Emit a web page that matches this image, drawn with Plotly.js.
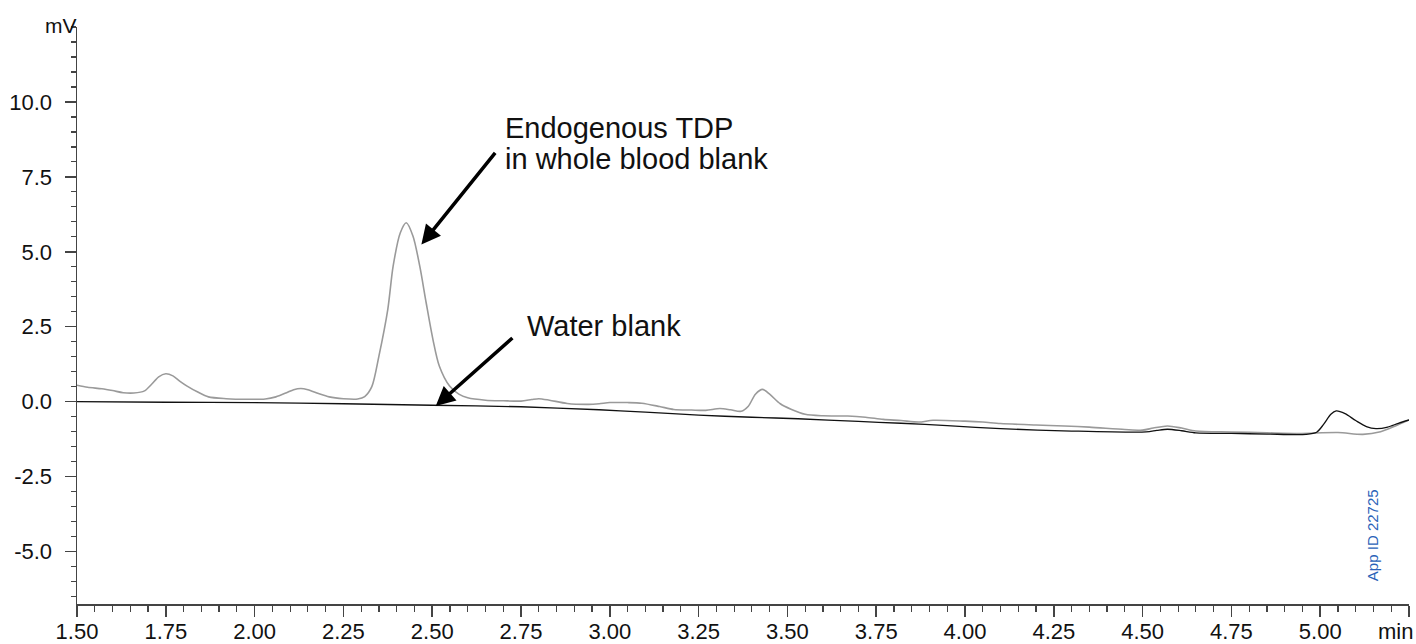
<!DOCTYPE html>
<html>
<head>
<meta charset="utf-8">
<script src="https://cdn.plot.ly/plotly-3.0.1.min.js"></script>
<style>
  html, body { margin: 0; padding: 0; background: #fff; }
  #chart { width: 1416px; height: 644px; }
</style>
</head>
<body>
<div id="chart"></div>
<script>
// Whole blood blank (grey trace): retention time (min) and signal (mV)
const bloodTime = [1.50, 1.53, 1.57, 1.60, 1.63, 1.66, 1.69, 1.71, 1.73, 1.75, 1.77, 1.79, 1.81, 1.84, 1.87, 1.92, 1.98, 2.03, 2.06, 2.09, 2.11, 2.13, 2.15, 2.18, 2.21, 2.25, 2.29, 2.31, 2.33, 2.35, 2.375, 2.39, 2.41, 2.427, 2.446, 2.465, 2.483, 2.502, 2.52, 2.549, 2.575, 2.60, 2.65, 2.70, 2.75, 2.78, 2.80, 2.83, 2.88, 2.94, 2.97, 3.00, 3.05, 3.09, 3.14, 3.18, 3.23, 3.27, 3.31, 3.34, 3.37, 3.39, 3.41, 3.43, 3.45, 3.48, 3.51, 3.55, 3.60, 3.67, 3.72, 3.77, 3.82, 3.87, 3.91, 4.00, 4.05, 4.10, 4.20, 4.28, 4.35, 4.45, 4.50, 4.53, 4.57, 4.61, 4.65, 4.75, 4.85, 4.94, 5.05, 5.12, 5.17, 5.21, 5.25];
const bloodSignal = [0.55, 0.48, 0.43, 0.37, 0.30, 0.29, 0.36, 0.58, 0.83, 0.93, 0.86, 0.68, 0.52, 0.32, 0.16, 0.10, 0.08, 0.09, 0.16, 0.30, 0.40, 0.44, 0.40, 0.27, 0.16, 0.10, 0.09, 0.17, 0.50, 1.52, 3.08, 4.52, 5.63, 5.97, 5.52, 4.52, 3.30, 2.08, 1.19, 0.52, 0.25, 0.13, 0.05, 0.03, 0.02, 0.07, 0.10, 0.05, -0.06, -0.09, -0.07, -0.03, -0.03, -0.05, -0.16, -0.26, -0.28, -0.29, -0.23, -0.27, -0.32, -0.15, 0.25, 0.41, 0.25, -0.07, -0.25, -0.42, -0.47, -0.48, -0.52, -0.59, -0.63, -0.68, -0.62, -0.65, -0.68, -0.73, -0.78, -0.81, -0.85, -0.93, -0.95, -0.88, -0.81, -0.88, -0.98, -1.01, -1.04, -1.06, -1.03, -1.09, -1.00, -0.82, -0.61];

// Water blank (black trace)
const waterTime = [1.50, 1.75, 2.00, 2.25, 2.50, 2.75, 2.97, 3.10, 3.25, 3.40, 3.53, 3.70, 3.82, 3.95, 4.10, 4.30, 4.51, 4.54, 4.57, 4.61, 4.65, 4.75, 4.85, 4.96, 4.99, 5.01, 5.03, 5.045, 5.07, 5.10, 5.13, 5.157, 5.19, 5.22, 5.25];
const waterSignal = [0.00, -0.02, -0.03, -0.07, -0.12, -0.17, -0.27, -0.35, -0.45, -0.52, -0.57, -0.66, -0.72, -0.80, -0.90, -0.98, -1.01, -0.96, -0.92, -0.97, -1.04, -1.06, -1.08, -1.09, -1.02, -0.75, -0.42, -0.31, -0.40, -0.63, -0.83, -0.90, -0.85, -0.72, -0.61];

// Axis ticks
const xTickValues = [1.50, 1.75, 2.00, 2.25, 2.50, 2.75, 3.00, 3.25, 3.50, 3.75, 4.00, 4.25, 4.50, 4.75, 5.00, 5.25];
const xTickLabels = ['1.50', '1.75', '2.00', '2.25', '2.50', '2.75', '3.00', '3.25', '3.50', '3.75', '4.00', '4.25', '4.50', '4.75', '5.00', ''];
const yTickValues = [-5.0, -2.5, 0.0, 2.5, 5.0, 7.5, 10.0];
const yTickLabels = ['-5.0', '-2.5', '0.0', '2.5', '5.0', '7.5', '10.0'];

// Annotation texts
const peakLabelLine1 = 'Endogenous TDP';
const peakLabelLine2 = 'in whole blood blank';
const waterLabel = 'Water blank';
const unitLabel = 'mV';
const timeUnitLabel = 'min';
const appIdLabel = 'App ID 22725';

const font = 'Liberation Sans, Arial, Helvetica, sans-serif';
const axisColor = '#444444';

const traces = [
  {
    x: bloodTime, y: bloodSignal, type: 'scatter', mode: 'lines',
    line: { color: '#9a9a9a', width: 1.6, shape: 'spline', smoothing: 0.8 },
    hoverinfo: 'skip', showlegend: false
  },
  {
    x: waterTime, y: waterSignal, type: 'scatter', mode: 'lines',
    line: { color: '#111111', width: 1.3, shape: 'spline', smoothing: 0.8 },
    hoverinfo: 'skip', showlegend: false
  }
];

const layout = {
  width: 1416, height: 644,
  margin: { l: 77, r: 7, t: 27, b: 40, pad: 0 },
  paper_bgcolor: '#ffffff', plot_bgcolor: '#ffffff',
  font: { family: font, color: '#111111', size: 22 },
  showlegend: false,
  xaxis: {
    range: [1.5, 5.25],
    tickmode: 'array', tickvals: xTickValues, ticktext: xTickLabels,
    ticks: 'outside', ticklen: 11, tickwidth: 1.5, tickcolor: axisColor,
    ticklabelstandoff: -4,
    minor: { tickmode: 'linear', tick0: 1.5, dtick: 0.05, ticks: 'outside', ticklen: 6, tickwidth: 1.2, tickcolor: axisColor, showgrid: false },
    showline: true, linecolor: axisColor, linewidth: 1.5,
    showgrid: false, zeroline: false,
    tickfont: { family: font, size: 22, color: '#111111' }
  },
  yaxis: {
    range: [-6.75, 12.5],
    tickmode: 'array', tickvals: yTickValues, ticktext: yTickLabels,
    ticks: 'outside', ticklen: 11, tickwidth: 1.5, tickcolor: axisColor,
    ticklabelstandoff: 8,
    minor: { tickmode: 'linear', tick0: 0, dtick: 0.5, ticks: 'outside', ticklen: 5, tickwidth: 1.2, tickcolor: axisColor, showgrid: false },
    showline: true, linecolor: axisColor, linewidth: 1.5,
    showgrid: false, zeroline: false,
    tickfont: { family: font, size: 22, color: '#111111' }
  },
  annotations: [
    { xref: 'x', yref: 'y', x: 2.6985, y: 9.143, text: peakLabelLine1, showarrow: false,
      xanchor: 'left', yanchor: 'middle', align: 'left', font: { family: font, size: 29, color: '#111111' } },
    { xref: 'x', yref: 'y', x: 2.6985, y: 8.11, text: peakLabelLine2, showarrow: false,
      xanchor: 'left', yanchor: 'middle', align: 'left', font: { family: font, size: 29, color: '#111111' } },
    { xref: 'x', yref: 'y', x: 2.7606, y: 2.51, text: waterLabel, showarrow: false,
      xanchor: 'left', yanchor: 'middle', align: 'left', font: { family: font, size: 29, color: '#111111' } },
    { xref: 'x', yref: 'y', x: 2.4696, y: 5.24, ax: 2.6807, ay: 8.35, axref: 'x', ayref: 'y',
      text: '', showarrow: true, arrowhead: 2, arrowsize: 1.1, arrowwidth: 3.5, arrowcolor: '#000000' },
    { xref: 'x', yref: 'y', x: 2.51, y: -0.147, ax: 2.730, ay: 2.17, axref: 'x', ayref: 'y',
      text: '', showarrow: true, arrowhead: 2, arrowsize: 1.1, arrowwidth: 3.5, arrowcolor: '#000000' },
    { xref: 'paper', yref: 'paper', x: 0, y: 1.002, text: unitLabel, showarrow: false,
      xanchor: 'right', yanchor: 'middle', xshift: 2, font: { family: font, size: 21, color: '#111111' } },
    { xref: 'paper', yref: 'paper', x: 1, y: 0, text: timeUnitLabel, showarrow: false,
      xanchor: 'right', yanchor: 'middle', xshift: 6, yshift: -27, font: { family: font, size: 22, color: '#111111' } },
    { xref: 'x', yref: 'y', x: 5.148, y: -4.46, text: appIdLabel, showarrow: false, textangle: -90,
      xanchor: 'center', yanchor: 'middle', font: { family: font, size: 15, color: '#2a62b8' } }
  ]
};

Plotly.newPlot('chart', traces, layout, { displayModeBar: false, staticPlot: true });
</script>
</body>
</html>
